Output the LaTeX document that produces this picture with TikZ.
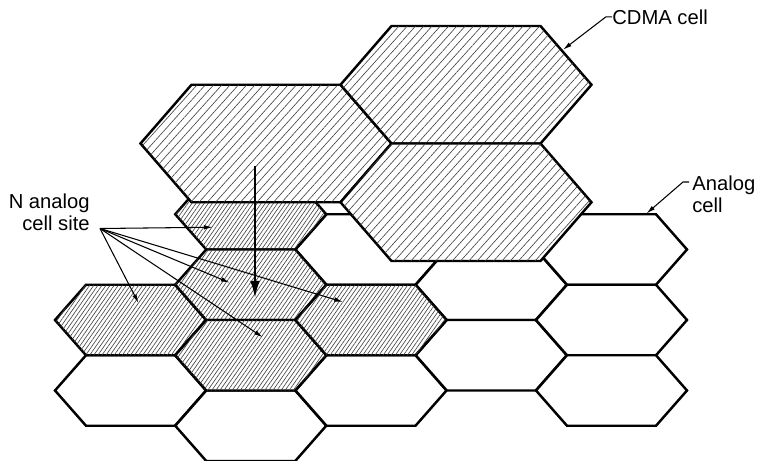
\documentclass[tikz,border=0pt]{standalone}
\usepackage{fontspec}
\setmainfont{Liberation Sans}
\usetikzlibrary{
    arrows.meta,
    calc,
    patterns.meta
}
\tikzset{
    % --- Small analog cell (flat-top hexagon, drawn from its centre) ---
    small hex/.style = {
        insert path={++(-75.5,0) -- ++(31,-35.25) -- ++(89,0)
            -- ++(31,35.25) -- ++(-31,35.25) -- ++(-89,0) -- cycle}
    },
    % --- Large CDMA cell (same shape, scaled up) ---
    large hex/.style = {
        insert path={++(-125.5,0) -- ++(51,-58.75) -- ++(149,0)
            -- ++(51,58.75) -- ++(-51,58.75) -- ++(-149,0) -- cycle}
    },
    % --- Plain analog cell ---
    cell/.style = {
        draw, line width=1.4pt, fill=white
    },
    % --- Analog cell site (dense hatching) ---
    site cell/.style = {
        cell,
        postaction={pattern={Lines[angle=55, distance=1.9pt, line width=0.35pt]},
            pattern color=black!75}
    },
    % --- CDMA cell (wide hatching) ---
    cdma cell/.style = {
        cell,
        postaction={pattern={Lines[angle=48, distance=3.5pt, line width=0.35pt]},
            pattern color=black!75}
    },
    % --- Label text ---
    label text/.style = {
        font=\fontsize{11.5}{12.5}\selectfont, inner sep=0pt
    },
    % --- Thin leader arrow ---
    leader/.style = {
        -{Latex[length=5pt, width=2.6pt]}, line width=0.6pt
    },
    % --- Thick hand-off arrow ---
    handoff/.style = {
        -{Latex[length=10pt, width=5.5pt]}, line width=1.5pt
    }
}

\begin{document}
\begin{tikzpicture}[x=0.02cm, y=-0.02cm]

\useasboundingbox (0,0) rectangle (764,460);

% ---------------------------------------------------------
% Cell centres
% ---------------------------------------------------------
\foreach \name/\x/\y in {A2/130.5/320, A3/130.5/390.5,
    B1/250.75/214.25, B2/250.75/284.75, B3/250.75/355.25, B4/250.75/425.75,
    C1/371/249.5, C2/371/320, C3/371/390.5,
    D2/491.25/284.75, D3/491.25/355.25,
    E1/611.5/249.5, E2/611.5/320, E3/611.5/390.5} {
    \coordinate (\name) at (\x,\y);
}
\coordinate (ul) at (266,143.5);
\coordinate (ur) at (466,84.75);
\coordinate (lr) at (466,202.25);

% ---------------------------------------------------------
% Analog cells
% ---------------------------------------------------------
\foreach \name in {A3, B4, C1, C3, D2, D3, E1, E2, E3}
    \draw[cell] (\name) [small hex];
\foreach \name in {A2, B1, B2, B3, C2}
    \draw[site cell] (\name) [small hex];

% ---------------------------------------------------------
% CDMA cells
% ---------------------------------------------------------
\foreach \name in {ul, ur, lr}
    \draw[cdma cell] (\name) [large hex];

% ---------------------------------------------------------
% Labels
% ---------------------------------------------------------
\node[label text, anchor=base west] (cdmalbl) at (612,24) {CDMA cell};
\node[label text, anchor=north west, align=left] (analoglbl) at (692,176) {Analog\\cell};
\node[label text, anchor=north east, align=right] (sitelbl) at (90,194) {N analog\\cell site};

\draw[leader] (cdmalbl.west) -- ++(-6,0) -- ($(ur)+(97,-35)$);
\draw[leader] ($(analoglbl.north west)+(-3,6)$) -- ++(-6,0) -- ($(E1)+(35,-36)$);

% ---------------------------------------------------------
% Fan of arrows to the cell sites
% ---------------------------------------------------------
\coordinate (fan) at ($(sitelbl.south east)+(10,-3)$);
\foreach \cell/\dx/\dy in {B1/-38/13, A2/8/-17, B2/-21/-2, B3/12/-18, C2/-28/-18}
    \draw[leader] (fan) -- ($(\cell)+(\dx,\dy)$);

% ---------------------------------------------------------
% Hand-off arrow
% ---------------------------------------------------------
\coordinate (drop) at ($(ul)+(-11,22)$);
\draw[handoff] (drop) -- ++(0,133);

\end{tikzpicture}
\end{document}
